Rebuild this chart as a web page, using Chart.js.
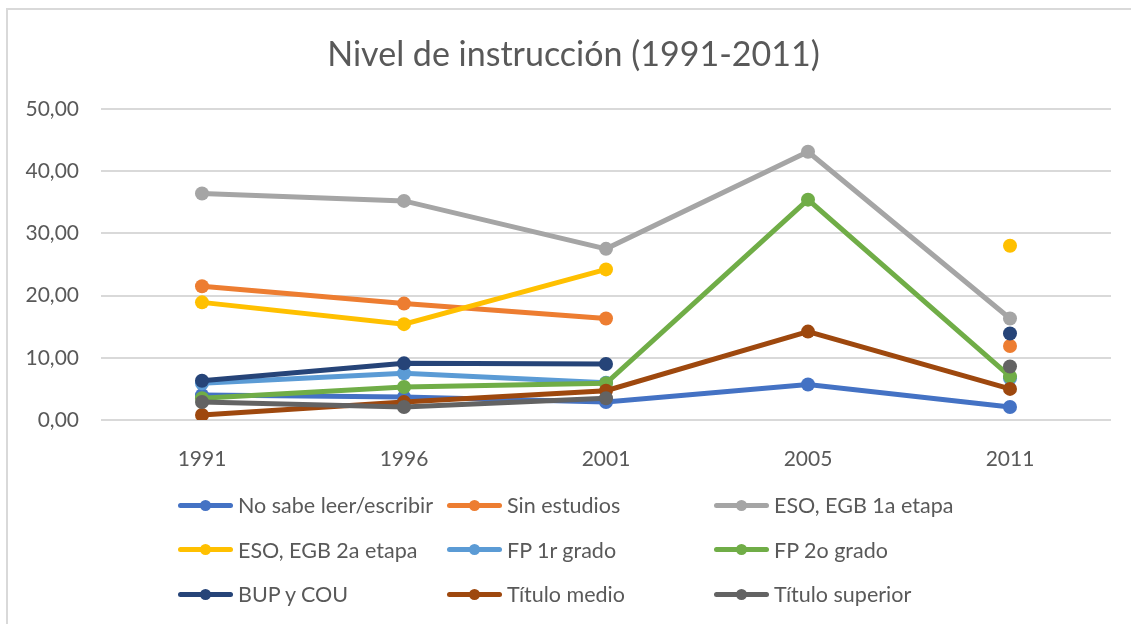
<!DOCTYPE html>
<html lang="es">
<head>
<meta charset="utf-8">
<title>Nivel de instrucción (1991-2011)</title>
<script src="https://cdn.jsdelivr.net/npm/chart.js@4.4.1/dist/chart.umd.min.js"></script>
<style>
    html, body { margin: 0; padding: 0; background: #fff; overflow: hidden; }
    #frame {
        position: absolute; left: 6px; top: 8px;
        width: 1160px; height: 660px;
        border: 2px solid #d9d9d9;
    }
    #wrap { position: absolute; left: 0; top: 0; width: 1147px; height: 624px; }
    #legend {
        position: absolute; left: 178px; top: 490px;
        display: grid;
        grid-template-columns: 269px 267px 260px;
        grid-auto-rows: 44.5px;
        font-family: Lato, "Open Sans", sans-serif;
        font-size: 21.5px; color: #595959;
    }
    .item { display: flex; align-items: center; height: 30px; white-space: nowrap; }
    .sample { position: relative; width: 55px; height: 5px; border-radius: 3px; margin-right: 5px; flex: none; }
    .sample i { position: absolute; left: 22px; top: -3px; width: 11px; height: 11px; border-radius: 50%; background: inherit; }
</style>
</head>
<body>
<div id="frame"></div>
<div id="wrap"><canvas id="lineChart"></canvas></div>
<div id="legend"></div>
<script>
// Datos
const years = ["1991", "1996", "2001", "2005", "2011"];
const yTickLabels = ["0,00", "10,00", "20,00", "30,00", "40,00", "50,00"];

const noSabe        = [4.0, 3.7, 2.9, 5.7, 2.1];
const sinEstudios   = [21.5, 18.7, 16.3, null, 11.9];
const egb1          = [36.4, 35.2, 27.5, 43.1, 16.3];
const egb2          = [18.9, 15.4, 24.2, null, 28.0];
const fp1           = [5.9, 7.5, 6.0, null, 6.7];
const fp2           = [3.5, 5.3, 5.9, 35.4, 7.0];
const bupCou        = [6.3, 9.1, 9.0, null, 13.9];
const tituloMedio   = [0.8, 2.9, 4.7, 14.2, 5.0];
const tituloSuperior = [2.9, 2.1, 3.5, null, 8.6];

const seriesNames = ["No sabe leer/escribir", "Sin estudios", "ESO, EGB 1a etapa",
    "ESO, EGB 2a etapa", "FP 1r grado", "FP 2o grado",
    "BUP y COU", "Título medio", "Título superior"];
const seriesData = [noSabe, sinEstudios, egb1, egb2, fp1, fp2, bupCou, tituloMedio, tituloSuperior];
const seriesColors = ["#4472c4", "#ed7d31", "#a5a5a5", "#ffc000", "#5b9bd5", "#70ad47",
    "#264478", "#9e480e", "#636363"];

const FONT = "Lato, 'Open Sans', sans-serif";
const TEXT = "#595959";

// Las series posteriores se dibujan encima, como en Excel
const datasets = seriesNames.map(function(name, i) {
    return {
        label: name,
        data: seriesData[i],
        borderColor: seriesColors[i],
        backgroundColor: seriesColors[i],
        borderWidth: 5,
        pointRadius: 7,
        pointHoverRadius: 7,
        pointBorderWidth: 0,
        borderCapStyle: "round",
        spanGaps: false,
        tension: 0,
        order: seriesNames.length - i
    };
});

const chart = new Chart(document.getElementById("lineChart"), {
    type: "line",
    data: { labels: years, datasets: datasets },
    options: {
        responsive: true,
        maintainAspectRatio: false,
        animation: false,
        layout: { padding: { left: 0, right: 0, top: 0, bottom: 144 } },
        plugins: {
            legend: { display: false },
            tooltip: { enabled: false },
            title: {
                display: true,
                text: "Nivel de instrucción (1991-2011)",
                color: TEXT,
                font: { family: FONT, size: 34, weight: "normal" },
                padding: { top: 35, bottom: 33 }
            }
        },
        scales: {
            x: {
                offset: true,
                grid: { display: false },
                border: { display: false },
                ticks: { color: TEXT, font: { family: FONT, size: 21 }, padding: 19, maxRotation: 0 },
                afterFit: function(scale) { scale.height = 60; }
            },
            y: {
                min: 0,
                max: 50,
                grid: { color: "#d9d9d9", lineWidth: 2, drawTicks: false },
                border: { display: false },
                ticks: {
                    stepSize: 10,
                    color: TEXT,
                    font: { family: FONT, size: 21 },
                    padding: 22,
                    callback: function(value) { return yTickLabels[Math.round(value / 10)]; }
                },
                afterFit: function(scale) { scale.width = 101; }
            },
            // eje vacío a la derecha: solo reserva margen
            yRight: {
                position: "right",
                min: 0,
                max: 50,
                grid: { display: false },
                border: { display: false },
                ticks: { display: false },
                afterFit: function(scale) { scale.width = 36; }
            }
        }
    }
});

// Leyenda en tres columnas
const legend = document.getElementById("legend");
chart.data.datasets.forEach(function(ds) {
    const item = document.createElement("div");
    item.className = "item";
    const sample = document.createElement("span");
    sample.className = "sample";
    sample.style.background = ds.borderColor;
    sample.appendChild(document.createElement("i"));
    item.appendChild(sample);
    item.appendChild(document.createTextNode(ds.label));
    legend.appendChild(item);
});
</script>
</body>
</html>
